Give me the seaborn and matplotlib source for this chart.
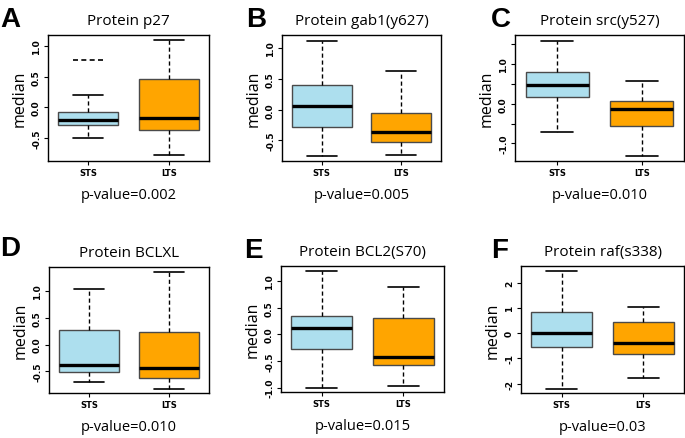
import pandas as pd
import matplotlib
matplotlib.use("Agg")
import matplotlib.pyplot as plt
import seaborn as sns

# five-number summaries: [min, q1, median, q3, max]
groups = ["STS", "LTS"]
letters = ["A", "B", "C", "D", "E", "F"]
titles = ["Protein p27", "Protein gab1(y627)", "Protein src(y527)",
          "Protein BCLXL", "Protein BCL2(S70)", "Protein raf(s338)"]
pvalues = ["0.002", "0.005", "0.010", "0.010", "0.015", "0.03"]

sts_p27 = [-0.50, -0.29, -0.20, -0.07, 0.20]
lts_p27 = [-0.78, -0.36, -0.17, 0.47, 1.10]
sts_gab1 = [-0.75, -0.28, 0.06, 0.40, 1.13]
lts_gab1 = [-0.73, -0.53, -0.37, -0.05, 0.63]
sts_src = [-0.72, 0.18, 0.48, 0.81, 1.60]
lts_src = [-1.31, -0.55, -0.13, 0.08, 0.57]
sts_bclxl = [-0.70, -0.51, -0.38, 0.27, 1.03]
lts_bclxl = [-0.83, -0.62, -0.44, 0.23, 1.36]
sts_bcl2 = [-1.01, -0.28, 0.11, 0.34, 1.19]
lts_bcl2 = [-0.96, -0.58, -0.43, 0.31, 0.89]
sts_raf = [-2.21, -0.53, -0.01, 0.85, 2.46]
lts_raf = [-1.76, -0.82, -0.38, 0.45, 1.03]

# extra dashed line above the STS box in panel A
p27_extra = 0.78

series = [(sts_p27, lts_p27), (sts_gab1, lts_gab1), (sts_src, lts_src),
          (sts_bclxl, lts_bclxl), (sts_bcl2, lts_bcl2), (sts_raf, lts_raf)]

ylims = [(-0.875, 1.185), (-0.835, 1.22), (-1.445, 1.74),
         (-0.906, 1.45), (-1.08, 1.28), (-2.37, 2.66)]
yticks = [[-0.5, 0.0, 0.5, 1.0], [-0.5, 0.0, 0.5, 1.0],
          [-1.0, -0.5, 0.0, 0.5, 1.0, 1.5], [-0.5, 0.0, 0.5, 1.0],
          [-1.0, -0.5, 0.0, 0.5, 1.0], [-2, -1, 0, 1, 2]]
yticklabels = [["-0.5", "0.0", "0.5", "1.0"], ["-0.5", "0.0", "0.5", "1.0"],
               ["-1.0", "", "0.0", "", "1.0", ""], ["-0.5", "0.0", "0.5", "1.0"],
               ["-1.0", "-0.5", "0.0", "0.5", "1.0"], ["-2", "-1", "0", "1", "2"]]

# frame positions in pixels: left, top, right, bottom
frames = [(48, 36, 209, 162), (282, 36, 441, 162), (515, 36, 684, 162),
          (49, 268, 209, 394), (281, 267, 444, 393), (521, 267, 684, 394)]
letter_pos = [(0, 27), (246, 27), (491, 27), (0, 256), (244, 258), (491, 258)]

W, H = 685, 439
sns.set_style("ticks")
plt.rcParams["font.family"] = ["Open Sans", "DejaVu Sans"]
plt.rcParams["text.color"] = "black"
plt.rcParams["axes.labelcolor"] = "black"
plt.rcParams["xtick.labelcolor"] = "black"
plt.rcParams["ytick.labelcolor"] = "black"

fig = plt.figure(figsize=(W / 100, H / 100), dpi=100)
palette = {"STS": "#ADDFEE", "LTS": "#FFA500"}
box_w = 0.75

for i in range(6):
    l, t, r, b = frames[i]
    ax = fig.add_axes([l / W, 1 - b / H, (r - l) / W, (b - t) / H])
    sts, lts = series[i]
    df = pd.DataFrame({"group": ["STS"] * len(sts) + ["LTS"] * len(lts),
                       "value": sts + lts})
    sns.boxplot(data=df, x="group", y="value", hue="group", order=groups,
                palette=palette, saturation=1, whis=(0, 100), width=box_w,
                showfliers=False, linecolor="#4a4a4a", linewidth=1.0, legend=False,
                medianprops=dict(color="black", linewidth=2.4),
                whiskerprops=dict(color="black", linestyle=(0, (3, 2)), linewidth=1.0),
                capprops=dict(color="black", linewidth=1.2),
                ax=ax)
    if i == 0:
        ax.hlines(p27_extra, 0 - box_w / 4, 0 + box_w / 4, colors="black",
                  linestyles=(0, (3, 2)), linewidth=1.2)
    ax.set_xlim(-0.5, 1.5)
    ax.set_ylim(*ylims[i])
    ax.set_yticks(yticks[i])
    ax.set_yticklabels(yticklabels[i], rotation=90, va="center",
                       fontsize=6.5, fontweight="bold", family="DejaVu Sans")
    ax.set_xticks([0, 1])
    ax.set_xticklabels(groups, fontsize=6, fontweight="bold", family="DejaVu Sans")
    ax.tick_params(axis="both", length=3, width=0.8, color="black", pad=2)
    for s in ax.spines.values():
        s.set_visible(True)
        s.set_color("black")
        s.set_linewidth(1.0)
    ax.set_ylabel("median", fontsize=11.5, labelpad=3)
    ax.set_xlabel("p-value=" + pvalues[i], fontsize=10.5, labelpad=7)
    ax.set_title(titles[i], fontsize=11, pad=8)
    lx, ly = letter_pos[i]
    fig.text(lx / W, 1 - ly / H, letters[i], fontsize=20, fontweight="bold",
             family="Liberation Sans", color="black", ha="left", va="baseline")

fig.savefig("out.png", dpi=100)
